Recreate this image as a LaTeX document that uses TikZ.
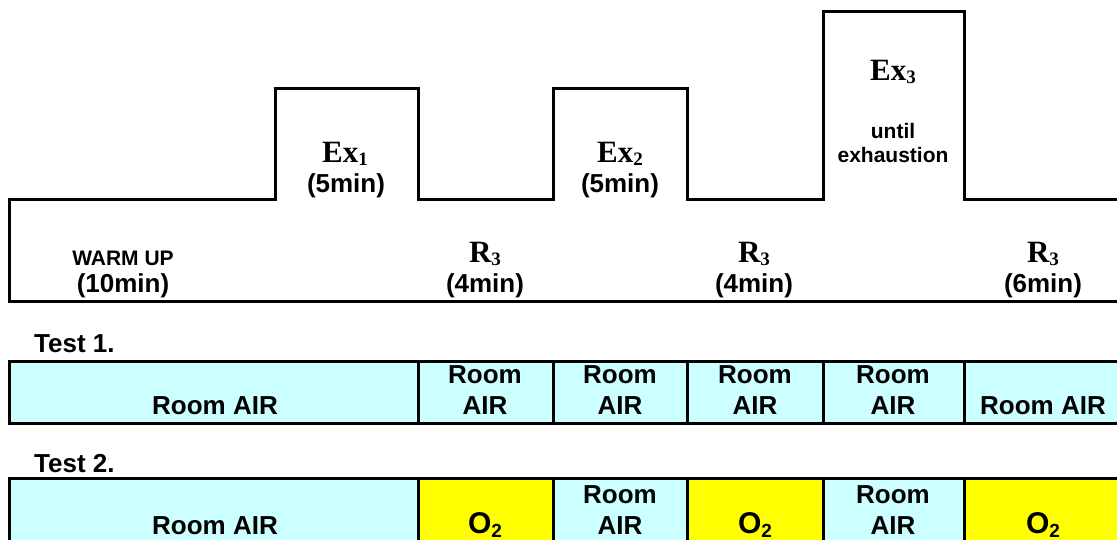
\documentclass[tikz,border=0pt]{standalone}
\usepackage{fontspec}
\setmainfont{Liberation Sans}
\newfontfamily\romanfont{Liberation Serif}
\definecolor{airfill}{HTML}{CCFFFF}
\definecolor{oxyfill}{HTML}{FFFF00}
% lowered, smaller index: #1 drop (pt), #2 size (pt), #3 text
\newcommand\subidx[3]{\raisebox{-#1pt}{\fontsize{#2}{#2}\selectfont #3}}
\tikzset{
  outline/.style={line width=3pt, line join=miter, draw=black},
  lbl/.style={font=\bfseries\fontsize{26}{30.5}\selectfont, inner sep=0pt, anchor=base, align=center},
  smalllbl/.style={font=\bfseries\fontsize{21}{24}\selectfont, inner sep=0pt, anchor=base, align=center},
  exlbl/.style={font=\romanfont\bfseries\fontsize{31}{36}\selectfont, inner sep=0pt, anchor=base},
  oxylbl/.style={lbl, font=\bfseries\fontsize{30}{34}\selectfont},
  testlbl/.style={font=\bfseries\fontsize{26}{30}\selectfont, inner sep=0pt, anchor=base west},
}
\begin{document}
\begin{tikzpicture}[x=1pt, y=-1pt]
\clip (0,0) rectangle (1117,539);
\fill[white] (0,0) rectangle (1117,539);

% exercise / recovery profile
\draw[outline] (1130,199) -- (964,199) -- (964,11) -- (823,11) -- (823,199)
  -- (687,199) -- (687,88) -- (553,88) -- (553,199) -- (418,199) -- (418,88)
  -- (275,88) -- (275,199) -- (9,199) -- (9,301) -- (1130,301);

\node[exlbl] (ex1) at (345,162) {Ex\subidx{3}{19}{1}};
\node[lbl] (ex1t) at (346,192) {(5min)};
\node[exlbl] (ex2) at (620,162) {Ex\subidx{3}{19}{2}};
\node[lbl] (ex2t) at (620,192) {(5min)};
\node[exlbl] (ex3) at (893,80) {Ex\subidx{3}{19}{3}};
\node[smalllbl] (ex3t) at (893,162) {until\\exhaustion};

\node[smalllbl] (wu) at (123,265) {WARM UP};
\node[lbl] (wut) at (123,292) {(10min)};
\node[exlbl] (r1) at (485,262) {R\subidx{3}{19}{3}};
\node[lbl] (r1t) at (485,292) {(4min)};
\node[exlbl] (r2) at (754,262) {R\subidx{3}{19}{3}};
\node[lbl] (r2t) at (754,292) {(4min)};
\node[exlbl] (r3) at (1043,262) {R\subidx{3}{19}{3}};
\node[lbl] (r3t) at (1043,292) {(6min)};

% Test 1: room air throughout
\node[testlbl] (t1) at (34,352) {Test 1.};
\fill[airfill] (9,361) rectangle (1130,423);
\draw[outline] (1130,361) -- (9,361) -- (9,423) -- (1130,423);
\foreach \xx in {418,553,687,823,964} \draw[outline] (\xx,361) -- (\xx,423);
\node[lbl] (a1) at (215,414) {Room AIR};
\node[lbl] (a2) at (485,414) {Room\\AIR};
\node[lbl] (a3) at (620,414) {Room\\AIR};
\node[lbl] (a4) at (755,414) {Room\\AIR};
\node[lbl] (a5) at (893,414) {Room\\AIR};
\node[lbl] (a6) at (1043,414) {Room AIR};

% Test 2: oxygen during recovery
\node[testlbl] (t2) at (34,472) {Test 2.};
\fill[airfill] (9,478) rectangle (1130,560);
\fill[oxyfill] (418,478) rectangle (553,560);
\fill[oxyfill] (687,478) rectangle (823,560);
\fill[oxyfill] (964,478) rectangle (1130,560);
\draw[outline] (1130,478) -- (9,478) -- (9,560);
\foreach \xx in {418,553,687,823,964} \draw[outline] (\xx,478) -- (\xx,560);
\node[lbl] (b1) at (215,534) {Room AIR};
\node[oxylbl] (b2) at (485,533) {O\subidx{4}{19}{2}};
\node[lbl] (b3) at (620,534) {Room\\AIR};
\node[oxylbl] (b4) at (755,533) {O\subidx{4}{19}{2}};
\node[lbl] (b5) at (893,534) {Room\\AIR};
\node[oxylbl] (b6) at (1043,533) {O\subidx{4}{19}{2}};
\end{tikzpicture}
\end{document}
